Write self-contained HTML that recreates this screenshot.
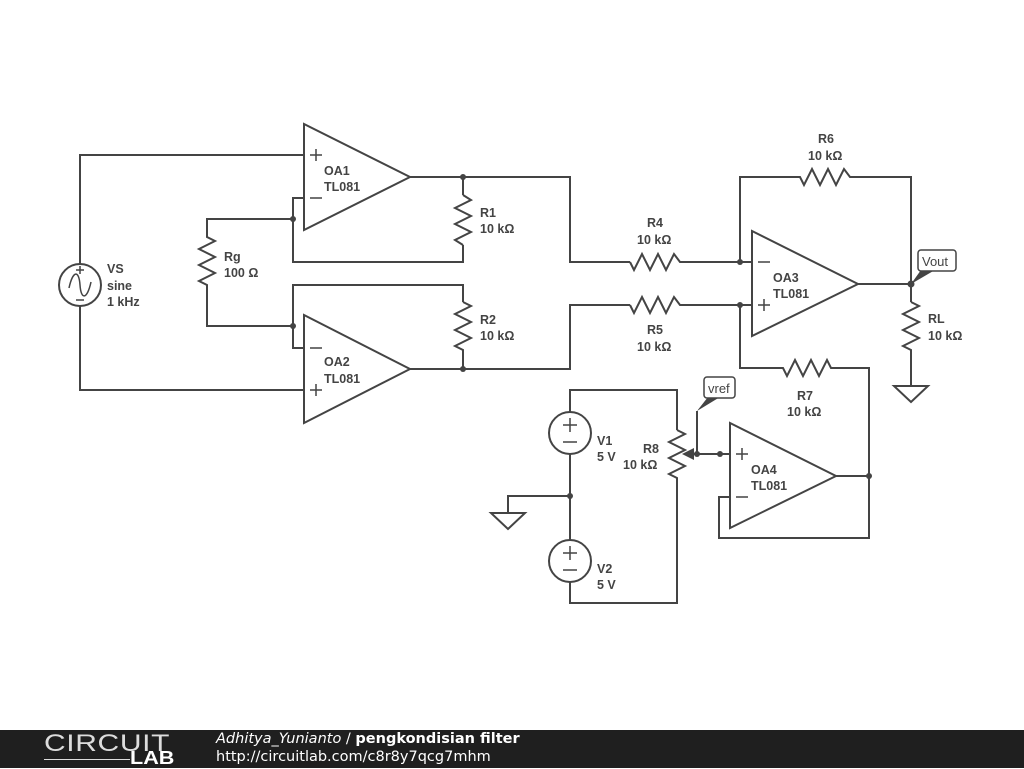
<!DOCTYPE html>
<html><head><meta charset="utf-8"><style>
html,body{margin:0;padding:0;background:#fff;width:1024px;height:768px;overflow:hidden}
svg{display:block}
text{font-family:"Liberation Sans","DejaVu Sans",sans-serif;font-size:12.5px;font-weight:bold;fill:#444}
.w{stroke:#444;stroke-width:2;fill:none}
.d{fill:#444}
#foot{position:absolute;left:0;top:730px;width:1024px;height:38px;background:#1f1f1f}
</style></head><body>
<svg width="1024" height="768" viewBox="0 0 1024 768">
<g class="w">
<polyline points="304,155 80,155 80,264"/>
<polyline points="80,306 80,390 304,390"/>
<circle cx="80" cy="285" r="21"/>
<path d="M69,288 C73,270 79,270 80,285 C81,300 87,300 91,282" stroke-width="1.5"/>
<path d="M76,270h8M80,266v8M76,300h8" stroke-width="1.5"/>
<polygon points="304,124 304,230 410,177"/>
<path d="M310,155h12M316,149v12M310,198h12" stroke-width="1.5"/>
<polyline points="304,198 293,198 293,262 463,262 463,245"/>
<polyline points="463,195 463,177"/>
<polyline points="463,195 471,200 455,208 471,216 455,224 471,232 455,240 463,245"/>
<polyline points="410,177 570,177 570,262 630,262"/>
<polyline points="293,219 207,219 207,237 215,241 199,249 215,257 199,265 215,273 199,281 207,285 207,326 293,326"/>
<polygon points="304,315 304,423 410,369"/>
<path d="M310,348h12M310,390h12M316,384v12" stroke-width="1.5"/>
<polyline points="304,348 293,348 293,285 463,285 463,302"/>
<polyline points="463,302 471,306 455,314 471,322 455,330 471,338 455,346 463,350 463,369"/>
<polyline points="410,369 570,369 570,305 630,305"/>
<polyline points="630,262 634,270 642,254 650,270 658,254 666,270 674,254 680,262 752,262"/>
<polyline points="630,305 634,313 642,297 650,313 658,297 666,313 674,297 680,305 752,305"/>
<polygon points="752,231 752,336 858,284"/>
<path d="M758,262h12M758,305h12M764,299v12" stroke-width="1.5"/>
<polyline points="740,262 740,177 800,177 804,185 812,169 820,185 828,169 836,185 844,169 850,177 911,177 911,302"/>
<polyline points="858,284 911,284"/>
<polyline points="911,302 919,306 903,314 919,322 903,330 919,338 903,346 911,350 911,386"/>
<polygon points="894,386 928,386 911,402"/>
<polyline points="740,305 740,368 783,368 787,376 795,360 803,376 811,360 819,376 827,360 831,368 869,368 869,538 719,538 719,497 730,497"/>
<polygon points="730,423 730,528 836,476"/>
<path d="M736,454h12M742,448v12M736,497h12" stroke-width="1.5"/>
<polyline points="836,476 869,476"/>
<polyline points="570,412 570,390 677,390 677,430"/>
<polyline points="677,430 685,434 669,442 685,450 669,458 685,466 669,474 677,478 677,603 570,603 570,582"/>
<polyline points="570,454 570,540"/>
<circle cx="570" cy="433" r="21"/>
<circle cx="570" cy="561" r="21"/>
<path d="M563,425h14M570,418v14M563,442h14M563,553h14M570,546v14M563,570h14" stroke-width="1.5"/>
<polyline points="570,496 508,496 508,513"/>
<polygon points="491,513 525,513 508,529"/>
<polyline points="690,454 730,454"/>
<polyline points="697,454 697,411"/>
</g>
<polygon class="d" points="682,454 694,448 694,460"/>
<g class="d">
<circle cx="293" cy="219" r="3"/><circle cx="293" cy="326" r="3"/>
<circle cx="463" cy="177" r="3"/><circle cx="463" cy="369" r="3"/>
<circle cx="740" cy="262" r="3"/><circle cx="740" cy="305" r="3"/>
<circle cx="911" cy="284" r="3.5"/><circle cx="869" cy="476" r="3"/>
<circle cx="570" cy="496" r="3"/><circle cx="697" cy="454" r="3"/><circle cx="720" cy="454" r="3"/>
<polygon points="911,284 921,270 935,270"/>
<polygon points="697,411 708,397 720,397"/>
</g>
<rect x="918" y="250" width="38" height="21" rx="3" fill="#fff" stroke="#444" stroke-width="1.5"/>
<text x="922" y="266" style="font-weight:normal;font-size:13px">Vout</text>
<rect x="704" y="377" width="31" height="21" rx="3" fill="#fff" stroke="#444" stroke-width="1.5"/>
<text x="708" y="393" style="font-weight:normal;font-size:13px">vref</text>
<text x="107" y="273">VS</text><text x="107" y="290">sine</text><text x="107" y="306">1 kHz</text>
<text x="324" y="175">OA1</text><text x="324" y="191">TL081</text>
<text x="324" y="366">OA2</text><text x="324" y="383">TL081</text>
<text x="773" y="282">OA3</text><text x="773" y="298">TL081</text>
<text x="751" y="474">OA4</text><text x="751" y="490">TL081</text>
<text x="224" y="261">Rg</text><text x="224" y="277">100 Ω</text>
<text x="480" y="217">R1</text><text x="480" y="233">10 kΩ</text>
<text x="480" y="324">R2</text><text x="480" y="340">10 kΩ</text>
<text x="647" y="227">R4</text><text x="637" y="244">10 kΩ</text>
<text x="647" y="334">R5</text><text x="637" y="351">10 kΩ</text>
<text x="818" y="143">R6</text><text x="808" y="160">10 kΩ</text>
<text x="797" y="400">R7</text><text x="787" y="416">10 kΩ</text>
<text x="928" y="323">RL</text><text x="928" y="340">10 kΩ</text>
<text x="597" y="445">V1</text><text x="597" y="461">5 V</text>
<text x="597" y="573">V2</text><text x="597" y="589">5 V</text>
<text x="643" y="453">R8</text><text x="623" y="469">10 kΩ</text>
</svg>
<div id="foot">
<div style="position:absolute;left:44px;top:0px;color:#ddd;font:24px 'Liberation Sans',sans-serif;transform:scaleX(1.25);transform-origin:0 0;letter-spacing:0.5px">CIRCUIT</div>
<div style="position:absolute;left:44px;top:29px;width:86px;height:1px;background:#ddd"></div>
<div style="position:absolute;left:130px;top:18px;color:#fff;font:bold 18px 'Liberation Sans',sans-serif;transform:scaleX(1.2);transform-origin:0 0">LAB</div>
<div style="position:absolute;left:216px;top:1px;color:#fff;font:14.5px 'DejaVu Sans',sans-serif"><i>Adhitya_Yunianto</i> / <b>pengkondisian filter</b></div>
<div style="position:absolute;left:216px;top:19px;color:#fff;font:14.5px 'DejaVu Sans',sans-serif">http://circuitlab.com/c8r8y7qcg7mhm</div>
</div>
</body></html>
